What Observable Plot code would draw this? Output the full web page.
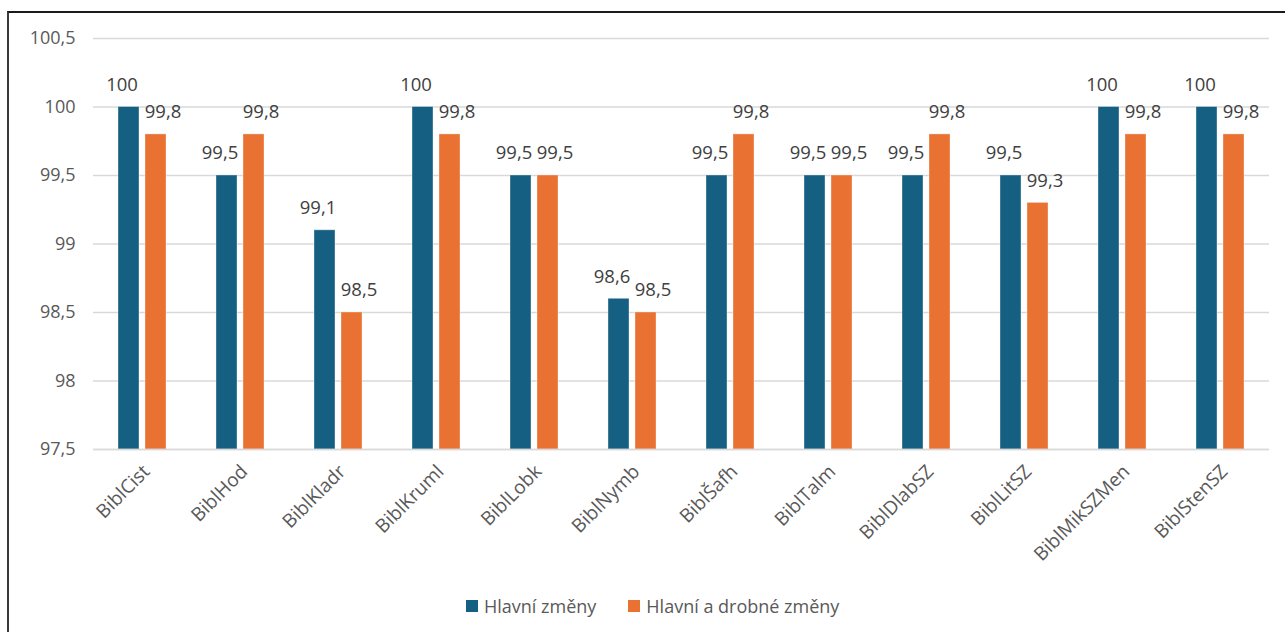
<!DOCTYPE html>
<html>
<head>
<meta charset="utf-8">
<script src="https://cdn.jsdelivr.net/npm/d3@7"></script>
<script src="https://cdn.jsdelivr.net/npm/@observablehq/plot@0.6"></script>
<style>
  html, body { margin: 0; padding: 0; background: #fff; overflow: hidden; }
  body { width: 1285px; height: 632px; position: relative; font-family: "Open Sans", sans-serif; }
  #frame { position: absolute; left: 7px; top: 11px; width: 1300px; height: 640px;
           border-left: 2px solid #3a3a3a; border-top: 2px solid #1a1a1a; box-sizing: border-box; }
  #chart { position: absolute; left: 0; top: 0; }
  #legend { position: absolute; left: 466px; top: 594px; display: flex; align-items: center;
            font-size: 18px; color: #595959; white-space: nowrap; }
  .sw { display: inline-block; width: 12px; height: 12px; margin-right: 6px; }
  .item { display: flex; align-items: center; margin-right: 32px; }
</style>
</head>
<body>
<div id="frame"></div>
<div id="chart"></div>
<div id="legend"></div>
<script>
const categories = ["BiblCist", "BiblHod", "BiblKladr", "BiblKruml", "BiblLobk", "BiblNymb", "BiblŠafh", "BiblTalm", "BiblDlabSZ", "BiblLitSZ", "BiblMikSZMen", "BiblStenSZ"];
const seriesNames = ["Hlavní změny", "Hlavní a drobné změny"];
const hlavni = [100, 99.5, 99.1, 100, 99.5, 98.6, 99.5, 99.5, 99.5, 99.5, 100, 100];
const hlavniDrobne = [99.8, 99.8, 98.5, 99.8, 99.5, 98.5, 99.8, 99.5, 99.8, 99.3, 99.8, 99.8];
const yTicks = [97.5, 98, 98.5, 99, 99.5, 100, 100.5];
const colors = ["#156082", "#E97132"];

const data = [];
categories.forEach((c, i) => {
  data.push({cat: c, series: seriesNames[0], value: hlavni[i]});
  data.push({cat: c, series: seriesNames[1], value: hlavniDrobne[i]});
});
const fmt = v => String(v).replace(".", ",");

const chart = Plot.plot({
  width: 1285,
  height: 580,
  marginLeft: 90,
  marginRight: 14,
  marginTop: 38,
  marginBottom: 131,
  style: {fontFamily: "Open Sans", fontSize: "18px", color: "#595959", background: "transparent"},
  fx: {domain: categories, padding: 0, label: null},
  x: {domain: seriesNames, paddingInner: 0.214, paddingOuter: 0.862, axis: null},
  y: {domain: [97.5, 100.5], label: null},
  color: {domain: seriesNames, range: colors},
  marks: [
    Plot.gridY(yTicks, {stroke: "#d9d9d9", strokeOpacity: 1, strokeWidth: 1.3}),
    Plot.axisY(yTicks, {tickSize: 0, tickPadding: 18, tickFormat: fmt, fontSize: 18, fill: "#595959", label: null}),
    Plot.axisFx({anchor: "bottom", tickSize: 0, tickPadding: 19, dx: 4, tickRotate: -45, fontSize: 19, fill: "#595959", label: null}),
    Plot.barY(data, {fx: "cat", x: "series", y1: 97.5, y2: "value", fill: "series", stroke: "#ffffff", strokeOpacity: 0.35, strokeWidth: 1}),
    Plot.ruleY([97.5], {stroke: "#d9d9d9", strokeWidth: 1.5}),
    Plot.text(data.filter(d => d.series === seriesNames[0]), {fx: "cat", x: "series", y: "value", text: d => fmt(d.value), dy: -22, dx: -7, fontSize: 18.5, fill: "#404040"}),
    Plot.text(data.filter(d => d.series === seriesNames[1]), {fx: "cat", x: "series", y: "value", text: d => fmt(d.value), dy: -22, dx: 7, fontSize: 18.5, fill: "#404040"})
  ]
});
document.getElementById("chart").appendChild(chart);

const legend = document.getElementById("legend");
seriesNames.forEach((s, i) => {
  const item = document.createElement("div");
  item.className = "item";
  const sw = document.createElement("span");
  sw.className = "sw";
  sw.style.background = colors[i];
  const label = document.createElement("span");
  label.textContent = s;
  item.appendChild(sw);
  item.appendChild(label);
  legend.appendChild(item);
});
</script>
</body>
</html>
